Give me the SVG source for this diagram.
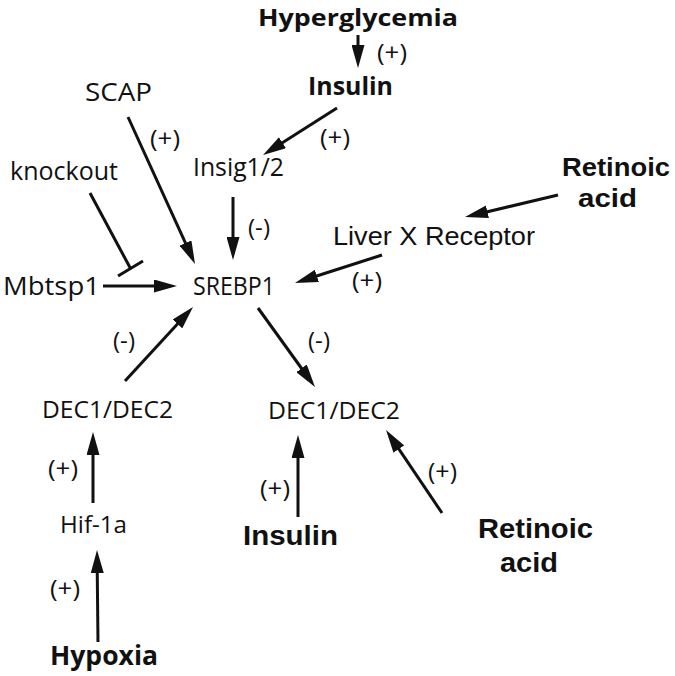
<svg xmlns="http://www.w3.org/2000/svg" width="675" height="676" viewBox="0 0 675 676">
<style>
text{fill:#111}
.m{font-family:"Open Sans","Noto Sans","DejaVu Sans",sans-serif;font-size:24px}
.s{font-family:"Open Sans","Noto Sans","DejaVu Sans",sans-serif;font-size:23px}
.mb{font-family:"Open Sans","Noto Sans","DejaVu Sans",sans-serif;font-weight:bold;font-size:25px}
.b{font-family:"Liberation Sans",Arial,sans-serif;font-weight:bold;font-size:26px}
.r{font-family:"Liberation Sans",Arial,sans-serif;font-size:26px}
.c line{stroke:#111;stroke-width:3;fill:none}
.a{marker-end:url(#ah)}
</style>
<defs>
<marker id="ah" markerUnits="userSpaceOnUse" viewBox="0 0 23 13" markerWidth="23" markerHeight="13" refX="15" refY="6.5" orient="auto">
<path d="M0,0 L23,6.5 L0,13 z" fill="#111"/>
</marker>
</defs>
<rect width="675" height="676" fill="#fff"/>
<g id="connectors" class="c">
<line class="a" x1="358" y1="35" x2="358" y2="60"/>
<line class="a" x1="337" y1="108" x2="269.8" y2="150.7"/>
<line class="a" x1="128" y1="117" x2="191.7" y2="256.7"/>
<line class="a" x1="233" y1="197" x2="233" y2="252"/>
<line class="a" x1="103" y1="286" x2="169" y2="286"/>
<line class="a" x1="382" y1="255" x2="302.6" y2="280.5"/>
<line class="a" x1="558" y1="195" x2="472.8" y2="215.2"/>
<line class="a" x1="125" y1="381" x2="187.6" y2="312.9"/>
<line class="a" x1="258" y1="308" x2="310.3" y2="380.5"/>
<line class="a" x1="93" y1="503" x2="93" y2="440"/>
<line class="a" x1="98" y1="642" x2="97.1" y2="558"/>
<line class="a" x1="298" y1="517" x2="298" y2="443"/>
<line class="a" x1="442" y1="513" x2="390.5" y2="436.6"/>
<line x1="90" y1="193" x2="130.5" y2="268.5"/>
<line x1="118" y1="276" x2="143" y2="261"/>
</g>
<g id="edge-labels">
<text class="s" x="377" y="61" textLength="30" lengthAdjust="spacingAndGlyphs">(+)</text>
<text class="s" x="320" y="146" textLength="30" lengthAdjust="spacingAndGlyphs">(+)</text>
<text class="s" x="150" y="147" textLength="30" lengthAdjust="spacingAndGlyphs">(+)</text>
<text class="s" x="248" y="236" textLength="22" lengthAdjust="spacingAndGlyphs">(-)</text>
<text class="s" x="352" y="289" textLength="30" lengthAdjust="spacingAndGlyphs">(+)</text>
<text class="s" x="113" y="349" textLength="22" lengthAdjust="spacingAndGlyphs">(-)</text>
<text class="s" x="308" y="349" textLength="22" lengthAdjust="spacingAndGlyphs">(-)</text>
<text class="s" x="48" y="477" textLength="30" lengthAdjust="spacingAndGlyphs">(+)</text>
<text class="s" x="50" y="597" textLength="30" lengthAdjust="spacingAndGlyphs">(+)</text>
<text class="s" x="260" y="497" textLength="30" lengthAdjust="spacingAndGlyphs">(+)</text>
<text class="s" x="428" y="480" textLength="29" lengthAdjust="spacingAndGlyphs">(+)</text>
</g>
<g id="hyperglycemia"><text class="mb" x="258" y="26" textLength="200" lengthAdjust="spacingAndGlyphs" style="font-size:24px">Hyperglycemia</text></g>
<g id="insulin-top"><text class="mb" x="308" y="95" textLength="85" lengthAdjust="spacingAndGlyphs">Insulin</text></g>
<g id="scap"><text class="m" x="85" y="101" textLength="67" lengthAdjust="spacingAndGlyphs" style="font-size:25px">SCAP</text></g>
<g id="knockout"><text class="m" x="10" y="180" textLength="108" lengthAdjust="spacingAndGlyphs" style="font-size:25px">knockout</text></g>
<g id="insig"><text class="m" x="193" y="176" textLength="91" lengthAdjust="spacingAndGlyphs" style="font-size:25px">Insig1/2</text></g>
<g id="retinoic-top"><text class="b" x="562" y="176" textLength="108" lengthAdjust="spacingAndGlyphs">Retinoic</text><text class="b" x="578" y="207" textLength="59" lengthAdjust="spacingAndGlyphs">acid</text></g>
<g id="lxr"><text class="r" x="333" y="245" textLength="202" lengthAdjust="spacingAndGlyphs">Liver X Receptor</text></g>
<g id="mbtsp1"><text class="m" x="3" y="295" textLength="97" lengthAdjust="spacingAndGlyphs" style="font-size:25px">Mbtsp1</text></g>
<g id="srebp1"><text class="m" x="193" y="295" textLength="82" lengthAdjust="spacingAndGlyphs" style="font-size:25px">SREBP1</text></g>
<g id="dec-left"><text class="m" x="42" y="418" textLength="131" lengthAdjust="spacingAndGlyphs">DEC1/DEC2</text></g>
<g id="dec-right"><text class="m" x="268" y="419" textLength="132" lengthAdjust="spacingAndGlyphs">DEC1/DEC2</text></g>
<g id="hif"><text class="m" x="60" y="533" textLength="67" lengthAdjust="spacingAndGlyphs">Hif-1a</text></g>
<g id="hypoxia"><text class="mb" x="50" y="665" textLength="108" lengthAdjust="spacingAndGlyphs" style="font-size:26px">Hypoxia</text></g>
<g id="insulin-bottom"><text class="b" x="243" y="545" textLength="95" lengthAdjust="spacingAndGlyphs" style="font-size:28px">Insulin</text></g>
<g id="retinoic-bottom"><text class="b" x="478" y="538" textLength="115" lengthAdjust="spacingAndGlyphs" style="font-size:28px">Retinoic</text><text class="b" x="500" y="572" textLength="58" lengthAdjust="spacingAndGlyphs" style="font-size:28px">acid</text></g>
</svg>
